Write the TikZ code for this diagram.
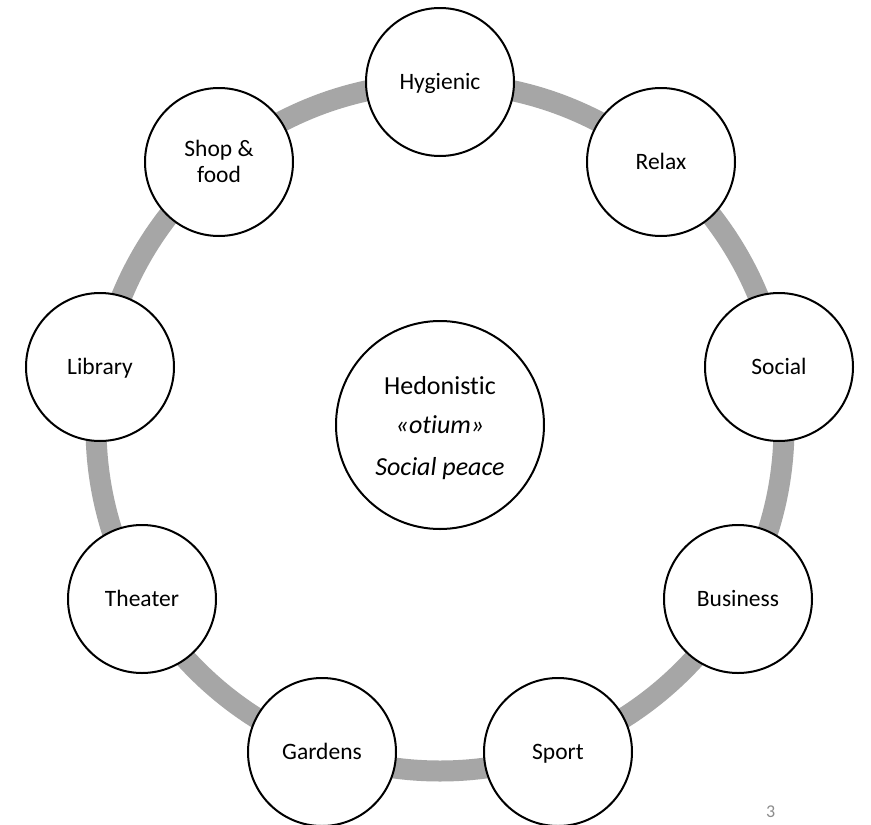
\documentclass[tikz,border=0pt]{standalone}
\usepackage{fontspec}
\setmainfont[Ligatures={NoCommon}]{Carlito}
\definecolor{ringgray}{HTML}{A6A6A6}
\definecolor{numgray}{HTML}{8C8C8C}
\tikzset{
  bub/.style={circle, draw=black, line width=2pt, fill=white, minimum size=148pt, inner sep=0pt,
              font=\fontsize{23.5}{26}\selectfont, text height=15.5pt, text depth=0pt},
  hub/.style={circle, draw=black, line width=2pt, fill=white, minimum size=208pt, inner sep=0pt},
  txt/.style={font=\fontsize{23.5}{26}\selectfont, anchor=base, inner sep=0pt},
  hubtxt/.style={font=\fontsize{26}{28}\selectfont, anchor=base, inner sep=0pt},
  ring/.style={draw=ringgray, line width=21pt}
}
\begin{document}
\begin{tikzpicture}[x=1pt,y=-1pt]
\path[fill=white, use as bounding box] (0,0) rectangle (871,825);
\coordinate (c) at (440,427);
\draw[ring] (c) circle[radius=344pt];
\node[hub] (hed) at (440,425) {};
\node[hubtxt] (hedA) at (440,394) {Hedonistic};
\node[hubtxt] (hedB) at (440,433) {\itshape «otium»};
\node[hubtxt] (hedC) at (440,475) {\itshape Social peace};
\node[bub] (hyg) at (440,82) {Hygienic};
\node[bub] (rel) at (661,162) {Relax};
\node[bub] (soc) at (779,367) {Social};
\node[bub] (bus) at (738,599) {Business};
\node[bub] (spo) at (558,752) {Sport};
\node[bub] (gar) at (322,752) {Gardens};
\node[bub] (the) at (142,599) {Theater};
\node[bub] (lib) at (100,367) {Library};
\node[bub] (sho) at (219,162) {};
\node[txt] (shoA) at (219,156) {Shop \&};
\node[txt] (shoB) at (219,182) {food};
\node[txt, anchor=base west, text=numgray, font=\fontsize{18}{20}\selectfont] (pg) at (766,817) {3};
\end{tikzpicture}
\end{document}
